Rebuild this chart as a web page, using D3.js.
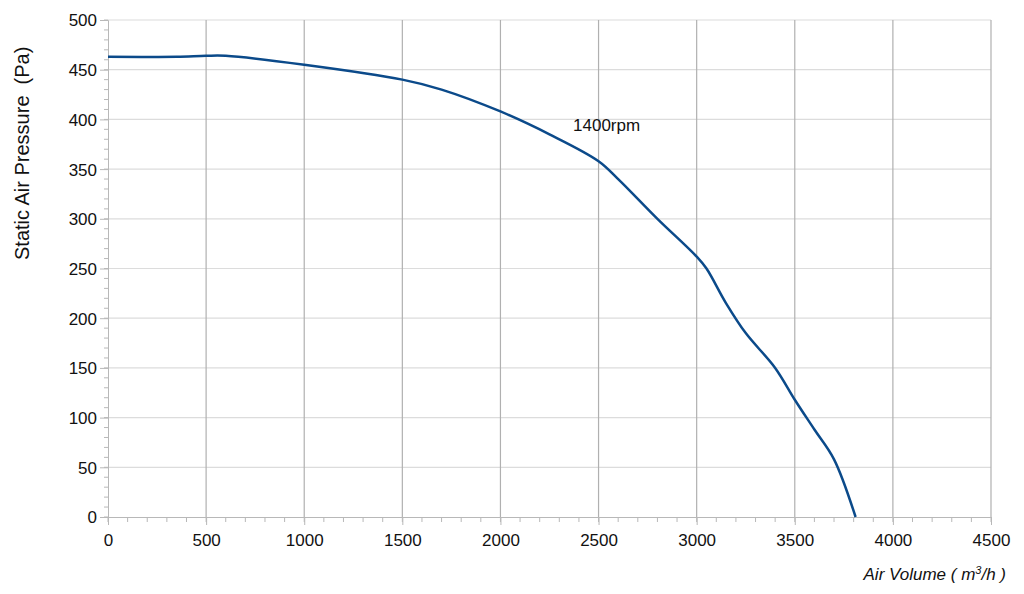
<!DOCTYPE html>
<html><head><meta charset="utf-8">
<script src="https://cdn.jsdelivr.net/npm/d3@7.9.0/dist/d3.min.js"></script>
<style>body{margin:0;background:#fff;font-family:"Liberation Sans",Arial,sans-serif;}</style>
</head><body><svg id="chart" width="1024" height="594"></svg>
<script>
const airVolume = [0, 350, 500, 600, 1000, 1500, 1700, 2000, 2250, 2500, 2600, 2800, 3000, 3050, 3150, 3250, 3400, 3500, 3600, 3700, 3810];
const pressure  = [463, 463, 464, 464, 455, 440, 430, 408, 385, 358, 340, 300, 262, 250, 215, 185, 150, 118, 88, 58, 0];
const xTicks = d3.range(0, 4501, 500);
const yTicks = d3.range(0, 501, 50);

const svg = d3.select('#chart');
const margin = {left: 108, right: 33, top: 20, bottom: 77};
const W = 1024, H = 594;
const x = d3.scaleLinear().domain([0, 4500]).range([margin.left, W - margin.right]);
const y = d3.scaleLinear().domain([0, 500]).range([H - margin.bottom, margin.top]);

// horizontal grid
svg.append('g').selectAll('line').data(yTicks.slice(1)).enter().append('line')
  .attr('x1', x(0)).attr('x2', x(4500)).attr('y1', d => y(d)).attr('y2', d => y(d))
  .attr('stroke', '#dcdcdc').attr('stroke-width', 1.2);
// vertical grid
svg.append('g').selectAll('line').data(xTicks.slice(1)).enter().append('line')
  .attr('x1', d => x(d)).attr('x2', d => x(d)).attr('y1', y(0)).attr('y2', y(500))
  .attr('stroke', '#b0b0b0').attr('stroke-width', 1.2);

// minor ticks
svg.append('g').selectAll('line').data(d3.range(0, 501, 10)).enter().append('line')
  .attr('x1', x(0) - 4).attr('x2', x(0)).attr('y1', d => y(d)).attr('y2', d => y(d))
  .attr('stroke', '#b8b8b8');
svg.append('g').selectAll('line').data(d3.range(0, 4501, 100)).enter().append('line')
  .attr('x1', d => x(d)).attr('x2', d => x(d)).attr('y1', y(0)).attr('y2', y(0) + 5)
  .attr('stroke', '#b8b8b8');

// axes
const xAxis = svg.append('g').attr('transform', `translate(0,${y(0)})`)
  .call(d3.axisBottom(x).tickValues(xTicks).tickSize(8).tickFormat(d3.format('d')));
const yAxis = svg.append('g').attr('transform', `translate(${x(0)},0)`)
  .call(d3.axisLeft(y).tickValues(yTicks).tickSize(8));
[xAxis, yAxis].forEach(a => {
  a.selectAll('.domain, .tick line').attr('stroke', '#b8b8b8');
  a.selectAll('text').attr('fill', '#111').style('font-size', '17px').style('font-family', '"Liberation Sans",Arial,sans-serif');
});
xAxis.selectAll('text').attr('dy', '1.05em');
yAxis.selectAll('text').attr('dy', '0.35em');

// curve
svg.append('path')
  .datum(airVolume.map((v, i) => [v, pressure[i]]))
  .attr('d', d3.line().x(d => x(d[0])).y(d => y(d[1])).curve(d3.curveCatmullRom))
  .attr('fill', 'none').attr('stroke', '#0b4a8a').attr('stroke-width', 2.5);

svg.append('text').attr('x', x(2370)).attr('y', y(388)).text('1400rpm')
  .style('font-size', '17px').attr('fill', '#111');

svg.append('text').attr('transform', `translate(29,260) rotate(-90)`)
  .attr('text-anchor', 'start').text('Static Air Pressure\u00a0 (Pa)')
  .style('font-size', '20px').attr('fill', '#111');

svg.append('text').attr('x', 1006).attr('y', 580).attr('text-anchor', 'end')
  .style('font-size', '17px').style('font-style', 'italic').attr('fill', '#111')
  .html('Air Volume ( m<tspan baseline-shift="super" font-size="11px">3</tspan>/h )');
</script></body></html>
